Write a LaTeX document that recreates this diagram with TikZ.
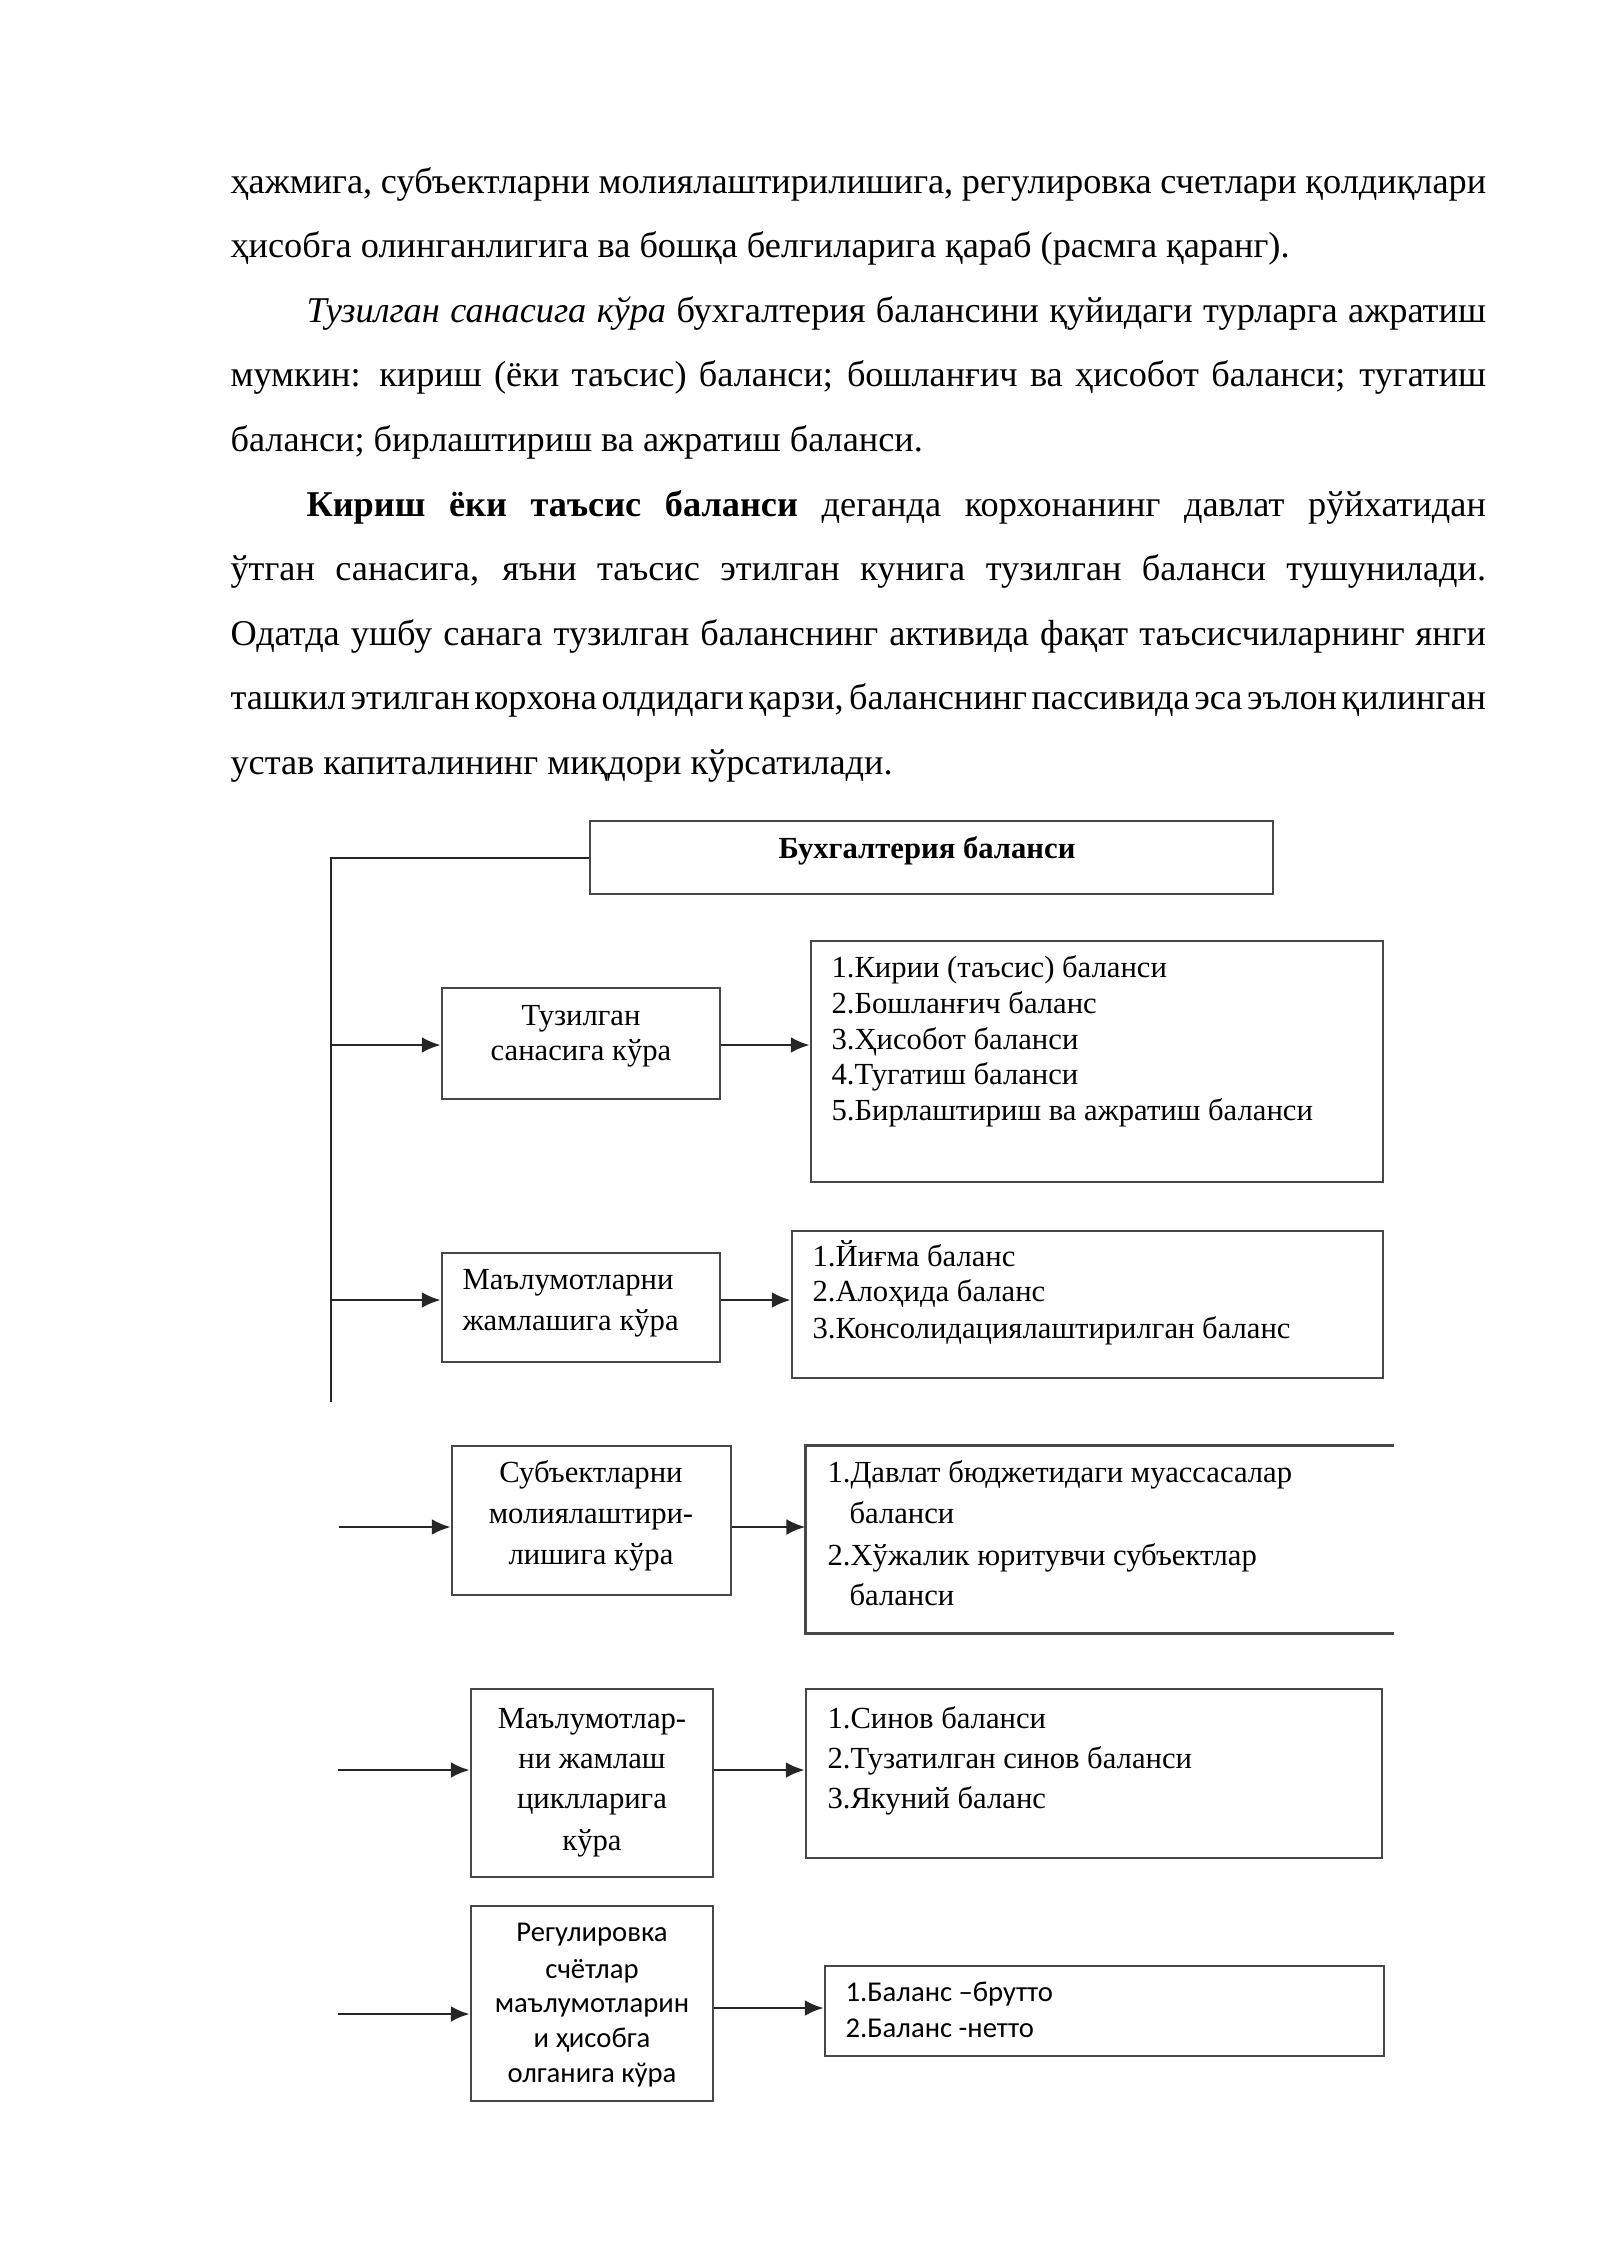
\documentclass[tikz,border=0pt]{standalone}
\usepackage{fontspec}
\setmainfont{Liberation Serif}
\newfontfamily\calfont{Carlito}
\usetikzlibrary{arrows.meta,fit}
\newcommand\parafont{\fontsize{13.55}{16}\selectfont\spaceskip=0.25em plus 1em minus 0.2em\relax}
\newcommand\jline[2]{\makebox[#1][s]{#2}}
\begin{document}
\begin{tikzpicture}[x=0.13125mm, y=-0.13125mm,
  ptext/.style={anchor=base west, inner sep=0, font=\parafont},
  dtext/.style={anchor=base west, inner sep=0, font=\fontsize{11.45}{14}\selectfont},
  ctext/.style={anchor=base, inner sep=0, font=\fontsize{11.45}{14}\selectfont},
  stext/.style={anchor=base west, inner sep=0, font=\calfont\fontsize{10.7}{13}\selectfont},
  sctext/.style={anchor=base, inner sep=0, font=\calfont\fontsize{10.7}{13}\selectfont},
  box/.style={draw=black!72, line width=0.9pt, inner sep=0},
  openbox/.style={inner sep=0},
  boxline/.style={draw=black!72, line width=0.9pt},
  conn/.style={draw=black!85, line width=1.1pt},
  arr/.style={conn, -{Latex[length=2.5mm,width=2.1mm]}}]
\useasboundingbox (0,0) rectangle (1600,2262);

% ---- paragraph text ----
\node[ptext] (p1) at (230,193) {\jline{164.8mm}{ҳажмига, субъектларни молиялаштирилишига, регулировка счетлари қолдиқлари}};
\node[ptext] (p2) at (230,257.6) {ҳисобга олинганлигига ва бошқа белгиларига қараб (расмга қаранг).};
\node[ptext] (p3) at (306,322.2) {\jline{154.8mm}{\textit{Тузилган санасига кўра} бухгалтерия балансини қуйидаги турларга ажратиш}};
\node[ptext] (p4) at (230,386.8) {\jline{164.8mm}{мумкин: кириш (ёки таъсис) баланси; бошланғич ва ҳисобот баланси; тугатиш}};
\node[ptext] (p5) at (230,451.4) {баланси; бирлаштириш ва ажратиш баланси.};
\node[ptext] (p6) at (306,516) {\jline{154.8mm}{\textbf{Кириш ёки таъсис баланси} деганда корхонанинг давлат рўйхатидан}};
\node[ptext] (p7) at (230,580.6) {\jline{164.8mm}{ўтган санасига, яъни таъсис этилган кунига тузилган баланси тушунилади.}};
\node[ptext] (p8) at (230,645.2) {\jline{164.8mm}{Одатда ушбу санага тузилган баланснинг активида фақат таъсисчиларнинг янги}};
\node[ptext] (p9) at (230,709.8) {\jline{164.8mm}{ташкил этилган корхона олдидаги қарзи, баланснинг пассивида эса эълон қилинган}};
\node[ptext] (p10) at (230,774.4) {устав капиталининг миқдори кўрсатилади.};

% ---- boxes ----
\node[box, fit={(590,821) (1273,894)}] (T) {};
\node[box, fit={(442,988) (720,1099)}] (B1) {};
\node[box, fit={(811,941) (1383,1182)}] (R1) {};
\node[box, fit={(442,1253) (720,1362)}] (B2) {};
\node[box, fit={(792,1231) (1383,1378)}] (R2) {};
\node[box, fit={(452,1446) (731,1595)}] (B3) {};
\node[openbox, fit={(806,1446) (1393,1633)}] (R3) {};
\draw[boxline] (R3.north east) -- (R3.north west) -- (R3.south west) -- (R3.south east);
\node[box, fit={(471,1689) (713,1877)}] (B4) {};
\node[box, fit={(806,1689) (1382,1858)}] (R4) {};
\node[box, fit={(471,1906) (713,2101)}] (B5) {};
\node[box, fit={(825,1966) (1384,2056)}] (R5) {};

% ---- texts in boxes ----
\node[ctext, font=\bfseries\fontsize{11.45}{14}\selectfont] (tT) at (927,858) {Бухгалтерия баланси};

\node[ctext] (tB1a) at (581,1025) {Тузилган};
\node[ctext] (tB1b) at (581,1060) {санасига кўра};
\node[dtext] (tR1a) at (831,977) {1.Кирии (таъсис) баланси};
\node[dtext] (tR1b) at (831,1013) {2.Бошланғич баланс};
\node[dtext] (tR1c) at (831,1049) {3.Ҳисобот баланси};
\node[dtext] (tR1d) at (831,1084) {4.Тугатиш баланси};
\node[dtext] (tR1e) at (831,1120) {5.Бирлаштириш ва ажратиш баланси};

\node[dtext] (tB2a) at (462,1289) {Маълумотларни};
\node[dtext] (tB2b) at (462,1330) {жамлашига кўра};
\node[dtext] (tR2a) at (812,1266) {1.Йиғма баланс};
\node[dtext] (tR2b) at (812,1301) {2.Алоҳида баланс};
\node[dtext] (tR2c) at (812,1338) {3.Консолидациялаштирилган баланс};

\node[ctext] (tB3a) at (591,1482) {Субъектларни};
\node[ctext] (tB3b) at (591,1523) {молиялаштири-};
\node[ctext] (tB3c) at (591,1564) {лишига кўра};
\node[dtext] (tR3a) at (827,1482) {1.Давлат бюджетидаги муассасалар};
\node[dtext] (tR3b) at (849,1523) {баланси};
\node[dtext] (tR3c) at (827,1565) {2.Хўжалик юритувчи субъектлар};
\node[dtext] (tR3d) at (849,1605) {баланси};

\node[ctext] (tB4a) at (592,1728) {Маълумотлар-};
\node[ctext] (tB4b) at (592,1768) {ни жамлаш};
\node[ctext] (tB4c) at (592,1808) {циклларига};
\node[ctext] (tB4d) at (592,1850) {кўра};
\node[dtext] (tR4a) at (827,1728) {1.Синов баланси};
\node[dtext] (tR4b) at (827,1768) {2.Тузатилган синов баланси};
\node[dtext] (tR4c) at (827,1808) {3.Якуний баланс};

\node[sctext] (tB5a) at (592,1941) {Регулировка};
\node[sctext] (tB5b) at (592,1978) {счётлар};
\node[sctext] (tB5c) at (592,2012) {маълумотларин};
\node[sctext] (tB5d) at (592,2047) {и ҳисобга};
\node[sctext] (tB5e) at (592,2082) {олганига кўра};
\node[stext] (tR5a) at (845,2001) {1.Баланс –брутто};
\node[stext] (tR5b) at (845,2037) {2.Баланс -нетто};

% ---- connectors ----
\coordinate (v0) at (331,858);
\coordinate (vend) at (331,1402);
\coordinate (s1) at (331,1045);
\coordinate (s2) at (331,1300);
\coordinate (s3) at (339,1527);
\coordinate (s4) at (338,1770);
\coordinate (s5) at (338,2014);
\coordinate (y5) at (700,2008);

\draw[conn] (T.west |- v0) -- (v0) -- (vend);
\draw[arr] (s1) -- (s1 -| B1.west);
\draw[arr] (B1.east |- s1) -- (s1 -| R1.west);
\draw[arr] (s2) -- (s2 -| B2.west);
\draw[arr] (B2.east |- s2) -- (s2 -| R2.west);
\draw[arr] (s3) -- (s3 -| B3.west);
\draw[arr] (B3.east |- s3) -- (s3 -| R3.west);
\draw[arr] (s4) -- (s4 -| B4.west);
\draw[arr] (B4.east |- s4) -- (s4 -| R4.west);
\draw[arr] (s5) -- (s5 -| B5.west);
\draw[arr] (B5.east |- y5) -- (y5 -| R5.west);
\end{tikzpicture}
\end{document}
